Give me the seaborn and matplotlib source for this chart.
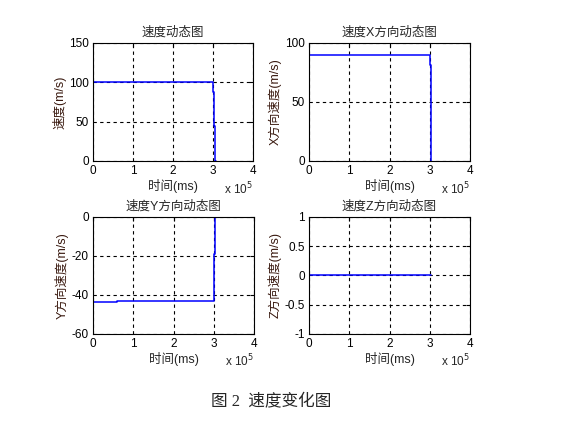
import numpy as np
import pandas as pd
import matplotlib
matplotlib.use('Agg')
import matplotlib.pyplot as plt
from matplotlib.ticker import FuncFormatter
import seaborn as sns

# data (time in ms, speed in m/s), step values
t_v = [0, 3.0e5, 3.02e5, 3.04e5, 3.07e5]
v_total = [100, 88, 45, 0, 0]

t_vx = [0, 3.0e5, 3.02e5, 3.03e5]
v_x = [90, 81, 0, 0]

t_vy = [0, 0.6e5, 3.0e5, 3.01e5, 3.04e5, 3.06e5]
v_y = [-43.7, -43.1, -38, -19, 0, 0]

t_vz = [0, 3.03e5]
v_z = [0, 0]

titles = ['速度动态图', '速度X方向动态图', '速度Y方向动态图', '速度Z方向动态图']
ylabels = ['速度(m/s)', 'X方向速度(m/s)', 'Y方向速度(m/s)', 'Z方向速度(m/s)']
ylims = [(0, 150), (0, 100), (-60, 0), (-1, 1)]
yticks = [[0, 50, 100, 150], [0, 50, 100], [-60, -40, -20, 0], [-1, -0.5, 0, 0.5, 1]]
xticks = [0, 1e5, 2e5, 3e5, 4e5]
caption = '图 2  速度变化图'

sns.set_style('white')
plt.rcParams['font.family'] = ['Liberation Sans', 'Noto Sans CJK SC']
plt.rcParams['font.size'] = 8

fig = plt.figure(figsize=(5.72, 4.21), dpi=100)
positions = [
    [0.1626, 0.6176, 0.2797, 0.2803],
    [0.5402, 0.6176, 0.2815, 0.2803],
    [0.1626, 0.2067, 0.2815, 0.2780],
    [0.5402, 0.2067, 0.2815, 0.2780],
]
series = [(t_v, v_total), (t_vx, v_x), (t_vy, v_y), (t_vz, v_z)]

for i, pos in enumerate(positions):
    ax = fig.add_axes(pos)
    t, v = series[i]
    df = pd.DataFrame({'t': t, 'v': v})
    sns.lineplot(data=df, x='t', y='v', ax=ax, color='#0000ff', linewidth=1.1,
                 drawstyle='steps-post', estimator=None)
    ax.set_xlim(0, 4e5)
    ax.set_ylim(*ylims[i])
    ax.set_xticks(xticks)
    ax.set_yticks(yticks[i])
    ax.xaxis.set_major_formatter(FuncFormatter(lambda x, p: f'{x / 1e5:g}'))
    ax.yaxis.set_major_formatter(FuncFormatter(lambda y, p: f'{y:g}'))
    ax.grid(True, color='black', linestyle=(0, (3, 3)), linewidth=0.8)
    ax.tick_params(direction='in', length=3, labelsize=8.5, colors='black',
                   top=True, right=True, pad=3)
    for s in ax.spines.values():
        s.set_color('black')
        s.set_linewidth(0.8)
    ax.set_title(titles[i], fontsize=9, pad=5)
    ax.set_xlabel('时间(ms)', fontsize=9, labelpad=1)
    ax.set_ylabel(ylabels[i], fontsize=9, color='#3a1a10', labelpad=2)
    ax.text(1.0, -0.235, r'x 10$^5$', transform=ax.transAxes, ha='right',
            va='center', fontsize=8.5)

fig.text(0.474, 0.045, caption, ha='center', va='center', fontsize=12,
         family=['Liberation Serif', 'Noto Sans CJK SC'])

fig.savefig('out.png', dpi=100, facecolor='white')
